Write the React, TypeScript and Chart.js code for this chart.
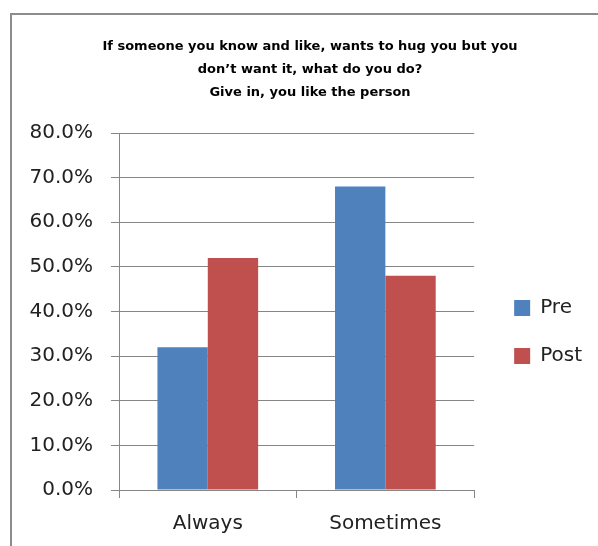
import React, { useEffect, useRef } from "react";
import { Chart, registerables } from "chart.js";

Chart.register(...registerables);

const categories: string[] = ["Always", "Sometimes"];
const preValues: number[] = [32, 68];
const postValues: number[] = [52, 48];
const titleLines: string[] = [
  "If someone you know and like, wants to hug you but you",
  "don\u2019t want it, what do you do?",
  "Give in, you like the person",
];
const yMax = 80;
const yStep = 10;

const FONT = "'DejaVu Sans', sans-serif";
const PAD_L = 20;
const PAD_R = 18;

const framePlugin = {
  id: "frame",
  beforeDraw(chart: any) {
    const { ctx, width, height } = chart;
    ctx.save();
    ctx.fillStyle = "#ffffff";
    ctx.fillRect(0, 0, width, height);
    ctx.strokeStyle = "#8c8c8c";
    ctx.lineWidth = 2;
    ctx.beginPath();
    ctx.moveTo(11, height);
    ctx.lineTo(11, 14);
    ctx.lineTo(width, 14);
    ctx.stroke();
    ctx.restore();
  },
};

const boxShift = {
  id: "boxShift",
  afterLayout(chart: any) {
    const lg = chart.legend;
    if (lg) {
      lg.left += 12;
      lg.right += 12;
      lg.top += 59;
      lg.bottom += 59;
    }
    const tt = chart.titleBlock;
    if (tt) {
      tt.left += 10;
      tt.right += 10;
    }
  },
};

export default function App() {
  const ref = useRef<HTMLCanvasElement | null>(null);
  useEffect(() => {
    if (!ref.current) return;
    const chart = new Chart(ref.current, {
      type: "bar",
      data: {
        labels: categories,
        datasets: [
          {
            label: "Pre",
            data: preValues,
            backgroundColor: "#4F81BD",
            borderColor: "#4F81BD",
            borderWidth: 0,
          },
          {
            label: "Post",
            data: postValues,
            backgroundColor: "#C0504D",
            borderColor: "#C0504D",
            borderWidth: 0,
          },
        ],
      },
      options: {
        responsive: false,
        animation: false,
        layout: { padding: { top: 0, left: PAD_L, right: PAD_R, bottom: 0 } },
        datasets: {
          bar: { categoryPercentage: 0.567, barPercentage: 1.0 },
        },
        plugins: {
          tooltip: { enabled: false },
          title: {
            display: true,
            text: titleLines,
            color: "#000000",
            font: { family: FONT, size: 13, weight: "bold", lineHeight: "23px" },
            padding: { top: 35, bottom: 29 },
          },
          legend: {
            display: true,
            position: "right",
            align: "center",
            labels: {
              boxWidth: 16,
              boxHeight: 16,
              padding: 28,
              color: "#222222",
              font: { family: FONT, size: 20 },
            },
          },
        },
        scales: {
          x: {
            afterFit(scale: any) {
              scale.height = 56;
            },
            grid: {
              display: true,
              drawOnChartArea: false,
              drawTicks: true,
              tickLength: 8,
              color: "#868686",
            },
            border: { display: true, color: "#868686" },
            ticks: {
              color: "#222222",
              padding: 14,
              font: { family: FONT, size: 20 },
            },
          },
          y: {
            min: 0,
            max: yMax,
            afterFit(scale: any) {
              scale.width = 119 - PAD_L;
            },
            grid: {
              color: "#868686",
              drawTicks: true,
              tickLength: 8,
            },
            border: { display: true, color: "#868686" },
            ticks: {
              stepSize: yStep,
              color: "#222222",
              padding: 18,
              font: { family: FONT, size: 20 },
              callback: (v: any) => Number(v).toFixed(1) + "%",
            },
          },
        },
      },
      plugins: [framePlugin, boxShift],
    });
    return () => chart.destroy();
  }, []);
  return (
    <div style={{ position: "absolute", left: 0, top: 0, width: 598, height: 546 }}>
      <canvas ref={ref} width={598} height={546} />
    </div>
  );
}
